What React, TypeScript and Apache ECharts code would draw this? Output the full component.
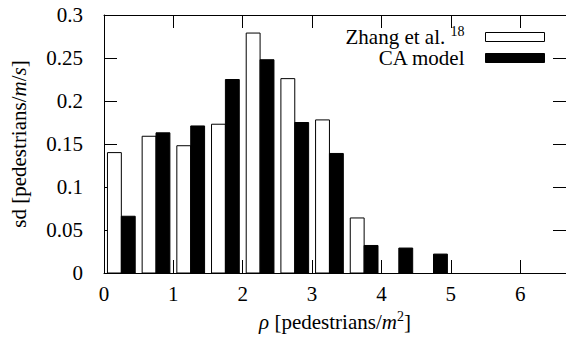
import React, { useEffect, useRef } from "react";
import * as echarts from "echarts";

// Bin centres (pedestrians/m^2) and standard deviations
const binCenters = [0.25, 0.75, 1.25, 1.75, 2.25, 2.75, 3.25, 3.75, 4.25, 4.75, 5.25, 5.75, 6.25];
const zhangValues = [0.140, 0.159, 0.148, 0.173, 0.279, 0.226, 0.178, 0.064, 0, 0, 0, 0, 0];
const caValues = [0.066, 0.163, 0.171, 0.225, 0.248, 0.175, 0.139, 0.032, 0.029, 0.022, 0, 0, 0];
const seriesNames = ["Zhang et al.", "CA model"];
const zhangRef = "18";

const FONT = "Liberation Serif";
const FS = 21;
const BAR_W = 0.2;

function barRenderer(side: number, fill: string) {
  return (_params: any, api: any) => {
    const c = api.value(0) as number;
    const v = api.value(1) as number;
    if (!v) return null;
    const x0 = side < 0 ? c - BAR_W : c;
    const x1 = side < 0 ? c : c + BAR_W;
    const a = api.coord([x0, v]);
    const b = api.coord([x1, 0]);
    return {
      type: "rect",
      shape: { x: a[0], y: a[1], width: b[0] - a[0], height: b[1] - a[1] },
      style: { fill, stroke: "#000", lineWidth: 1 },
    };
  };
}

const rich = {
  r: { fontFamily: FONT, fontSize: FS, color: "#000", lineHeight: 26 },
  i: { fontFamily: FONT, fontSize: FS, fontStyle: "italic", color: "#000", lineHeight: 26 },
  sup: { fontFamily: FONT, fontSize: 14, color: "#000", lineHeight: 14, verticalAlign: "top" },
  n: { fontFamily: FONT, fontSize: FS, color: "#000" },
  g: { width: 16 },
};

export default function App() {
  const ref = useRef<HTMLDivElement>(null);
  useEffect(() => {
    if (!ref.current) return;
    const chart = echarts.init(ref.current, undefined, { renderer: "svg" });
    const axisLine = { show: true, onZero: false, lineStyle: { color: "#000", width: 1 } };
    const tick = { show: true, inside: true, length: 13, lineStyle: { color: "#000", width: 1 } };
    const label = { fontFamily: FONT, fontSize: FS, color: "#000", rich };
    const fmt = (v: number) => `{n|${parseFloat(v.toFixed(2))}}`;
    chart.setOption({
      animation: false,
      backgroundColor: "#fff",
      textStyle: { fontFamily: FONT },
      grid: { left: 104, right: 0, top: 15, bottom: 63, containLabel: false },
      xAxis: [
        {
          type: "value", min: 0, max: 6.66, interval: 1, position: "bottom",
          axisLine, axisTick: tick, splitLine: { show: false },
          axisLabel: { ...label, margin: 10, showMaxLabel: false, formatter: fmt },
          name: "{i|ρ}{r| [pedestrians/}{i|m}{sup|2}{r|]}",
          nameLocation: "middle", nameGap: 36,
          nameTextStyle: { ...label, lineHeight: 26 },
        },
        {
          type: "value", min: 0, max: 6.66, interval: 1, position: "top",
          axisLine, axisTick: tick, splitLine: { show: false }, axisLabel: { show: false },
        },
      ],
      yAxis: [
        {
          type: "value", min: 0, max: 0.3, interval: 0.05, position: "left",
          axisLine, axisTick: tick, splitLine: { show: false },
          axisLabel: { ...label, margin: 21, formatter: fmt },
          name: "{r|sd [pedestrians/}{i|m}{r|/}{i|s}{r|]}",
          nameLocation: "middle", nameGap: 72, nameRotate: 90,
          nameTextStyle: { ...label },
        },
        {
          type: "value", min: 0, max: 0.3, interval: 0.05, position: "right",
          axisLine, axisTick: tick, splitLine: { show: false }, axisLabel: { show: false },
        },
      ],
      legend: {
        orient: "vertical", align: "right", right: 21, top: 24, padding: 0, itemGap: 0,
        itemWidth: 59, itemHeight: 9, icon: "rect", selectedMode: false,
        data: [
          { name: seriesNames[0], itemStyle: { color: "#fff", borderColor: "#000", borderWidth: 1 } },
          { name: seriesNames[1], itemStyle: { color: "#000", borderColor: "#000", borderWidth: 1 } },
        ],
        formatter: (name: string) =>
          name === seriesNames[0] ? `{r|${name} }{sup|${zhangRef}}{g|}` : `{r|${name}}{g|}`,
        textStyle: { ...label },
      },
      series: [
        {
          name: seriesNames[0], type: "custom", xAxisIndex: 0, yAxisIndex: 0,
          itemStyle: { color: "#fff", borderColor: "#000" },
          renderItem: barRenderer(-1, "#fff"),
          data: binCenters.map((c, i) => [c, zhangValues[i]]),
          encode: { x: 0, y: 1 },
        },
        {
          name: seriesNames[1], type: "custom", xAxisIndex: 0, yAxisIndex: 0,
          itemStyle: { color: "#000" },
          renderItem: barRenderer(1, "#000"),
          data: binCenters.map((c, i) => [c, caValues[i]]),
          encode: { x: 0, y: 1 },
        },
      ],
    });
    return () => chart.dispose();
  }, []);
  return (
    <div
      ref={ref}
      style={{ position: "fixed", left: 0, top: 0, width: 566, height: 340, background: "#fff" }}
    />
  );
}
